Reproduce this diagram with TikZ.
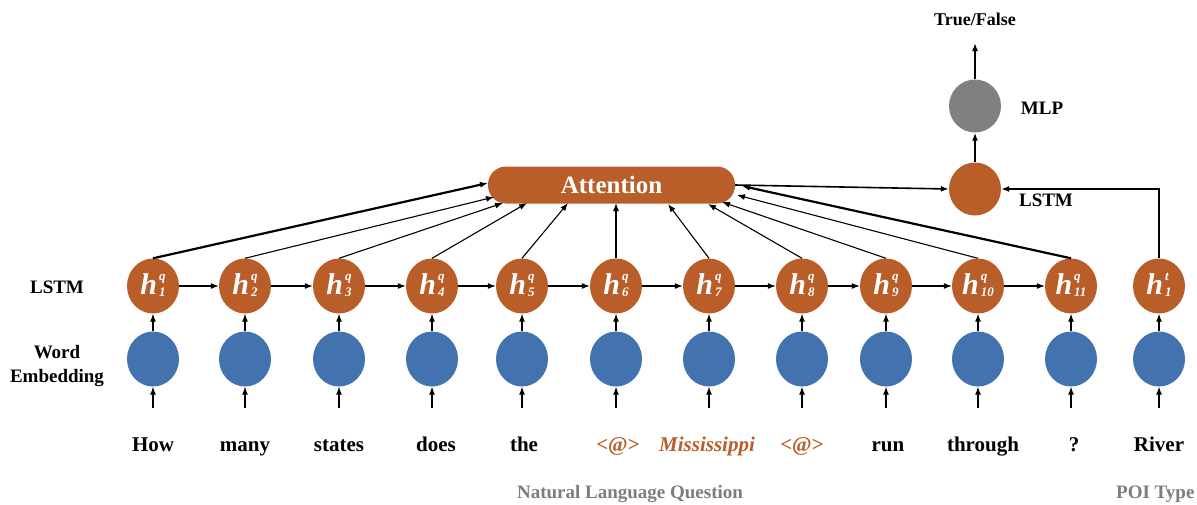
\documentclass[tikz,border=0pt]{standalone}
\usepackage{fontspec}
\setmainfont{Liberation Serif}
\usetikzlibrary{arrows.meta,calc,shapes.geometric}
\definecolor{rust}{RGB}{185,94,41}
\definecolor{emb}{RGB}{66,115,175}
\definecolor{mlpgray}{RGB}{128,128,128}
\definecolor{capgray}{RGB}{125,125,125}
\newcommand\hlab[2]{{\fontsize{30}{30}\selectfont\bfseries\itshape h\kern2pt\fontsize{13}{13}\selectfont\raisebox{5pt}{\begin{tabular}{@{}l@{}}#1\\[3pt]#2\end{tabular}}}}
\begin{document}
\begin{tikzpicture}[x=1pt,y=-1pt,
  lstmnode/.style={ellipse,minimum width=52pt,minimum height=55pt,inner sep=0pt,fill=rust,draw=none,text=white},
  embnode/.style={lstmnode,fill=emb},
  arr/.style={-{Latex[length=8pt,width=6pt]},line width=1.1pt},
  tharr/.style={arr,line width=2.2pt},
  lbl/.style={font=\fontsize{19}{24}\selectfont\bfseries,align=center},
  word/.style={font=\fontsize{21}{21}\selectfont\bfseries,anchor=base},
  ]
\useasboundingbox (0,0) rectangle (1197,504);

% question encoder
\foreach \x [count=\i] in {153,245,339,432,522,616,709,802,886,978,1071} {
  \node[lstmnode] (h\i) at (\x,286) {\hlab{q}{\i}};
  \node[embnode] (e\i) at (\x,359) {};
}
\node[lstmnode] (ht) at (1159,286) {\hlab{t}{1}};
\node[embnode] (et) at (1159,359) {};

% words
\node[word] (w1) at (153,451) {How};
\node[word] (w2) at (245,451) {many};
\node[word] (w3) at (339,451) {states};
\node[word] (w4) at (436,451) {does};
\node[word] (w5) at (524,451) {the};
\node[word,text=rust] (w6) at (618,451) {<@>};
\node[word,text=rust,font=\fontsize{21}{21}\selectfont\bfseries\itshape] (w7) at (707,451) {Mississippi};
\node[word,text=rust] (w8) at (802,451) {<@>};
\node[word] (w9) at (888,451) {run};
\node[word] (w10) at (983,451) {through};
\node[word] (w11) at (1074,451) {?};
\node[word] (w12) at (1159,451) {River};

% attention and head
\node[rounded corners=18pt,fill=rust,minimum width=247pt,minimum height=37pt,inner sep=0pt,
      text=white,font=\fontsize{25}{25}\selectfont\bfseries] (attn) at (611.5,185) {Attention};
\node[lstmnode,minimum height=53pt] (lt) at (975,189) {};
\node[lstmnode,minimum height=53pt,fill=mlpgray] (mlp) at (975,106) {};
\coordinate (out) at (975,43);
\node[font=\fontsize{18}{18}\selectfont\bfseries] (tf) at (975,19) {True/False};

% attention targets
\coordinate (a1) at (488,183);
\coordinate (a2) at (494,197);
\coordinate (a3) at (503,203);
\coordinate (a4) at (527,203);
\coordinate (a5) at (568,203);
\coordinate (a6) at (616,203);
\coordinate (a7) at (668,204);
\coordinate (a8) at (708,204);
\coordinate (a9) at (722,202);
\coordinate (a10) at (737,195);
\coordinate (a11) at (742,186);

% labels
\node[lbl] (llstm) at (57,287) {LSTM};
\node[lbl] (lemb) at (57,366) {Word\\Embedding};
\node[lbl] (lmlp) at (1042,108) {MLP};
\node[lbl] (llstm2) at (1046,200) {LSTM};
\node[lbl,text=capgray] (cap1) at (630,494) {Natural Language Question};
\node[lbl,text=capgray,anchor=east] (cap2) at (1198,494) {POI Type};

% connectors
\foreach \i [evaluate=\i as \j using int(\i+1)] in {1,...,10}
  \draw[arr] (h\i) -- (h\j);
\foreach \i in {1,...,11} {
  \draw[arr] (e\i) -- (h\i);
  \draw[arr] ([yshift=-21pt]e\i.south) -- (e\i.south);
}
\draw[arr] (et) -- (ht);
\draw[arr] ([yshift=-21pt]et.south) -- (et.south);

\draw[tharr] (h1.north) -- (a1);
\foreach \i in {2,...,10}
  \draw[arr] (h\i.north) -- (a\i);
\draw[tharr] (h11.north) -- (a11);

\draw[arr,line width=1.6pt] (attn.east) -- (lt.west);
\draw[arr,line width=1.6pt] (ht.north) |- (lt.east);
\draw[arr,line width=1.6pt] (lt) -- (mlp);
\draw[arr,line width=1.6pt] (mlp) -- (out);
\end{tikzpicture}
\end{document}
